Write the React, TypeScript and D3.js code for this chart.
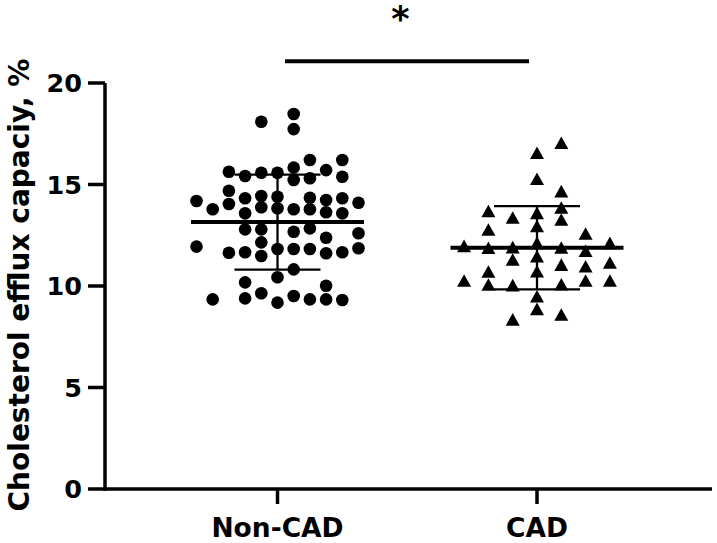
import React from "react";
import * as d3 from "d3";

const categories = ["Non-CAD", "CAD"];
const yTicks = [0, 5, 10, 15, 20];
const yLabel = "Cholesterol efflux capaciy, %";

// [value, lane]
const nonCadPoints: [number, number][] = [
  [18.09, -1], [18.47, 1], [17.73, 1], [16.21, 2], [16.21, 4],
  [15.63, -3], [15.42, -2], [15.58, -1], [15.58, 0], [15.83, 1], [15.22, 1],
  [15.31, 2], [15.71, 3], [15.38, 4], [14.69, -3], [14.19, -5], [13.78, -4],
  [14.04, -3], [14.32, -2], [13.58, -2], [14.43, -1], [13.88, -1], [14.4, 0],
  [13.83, 0], [13.78, 1], [14.35, 2], [13.78, 2], [14.24, 3], [13.63, 3],
  [14.32, 4], [13.58, 4], [14.1, 5],
  [12.79, -2], [12.79, -1], [12.67, 1], [12.84, 2], [12.6, 5], [12.38, 3],
  [12.15, -1], [11.94, -5], [11.64, -3], [11.66, -2], [11.48, -1], [11.82, 0],
  [11.82, 1], [11.82, 2], [11.61, 3], [11.66, 4], [11.86, 5], [10.82, 1],
  [10.43, 0], [10.18, -2], [10.01, 3], [9.34, -4], [9.39, -2], [9.64, -1],
  [9.18, 0], [9.51, 1], [9.34, 2], [9.34, 3], [9.31, 4],
];

const cadPoints: [number, number][] = [
  [17.03, 1], [16.54, 0], [15.26, 0], [14.65, 1], [13.84, 1], [13.67, -2],
  [13.35, -1], [13.58, 0], [13.25, 1], [12.93, 0], [12.76, -2], [12.56, 2],
  [12.1, 3], [11.95, -3], [11.86, -2], [11.89, -1], [12.1, 0], [11.87, 1],
  [11.71, 2], [11.28, -1], [11.44, 0], [11.03, 1], [10.95, 2], [11.13, 3],
  [10.69, -2], [10.7, 0], [10.25, -3], [10.05, -2], [10.02, -1], [10.06, 1],
  [10.25, 2], [10.25, 3], [9.47, 0], [8.85, 0], [8.57, 1], [8.33, -1],
];

const means = [13.15, 11.88];
const sds = [2.34, 2.05];

const FONT = "'DejaVu Sans', sans-serif";

export default function App() {
  const W = 717, H = 543;
  const axisLeft = 105, axisRight = 712, axisBottom = 489, axisTop = 83;
  const y = d3.scaleLinear().domain([0, 20]).range([axisBottom, axisTop]);
  const x = d3.scalePoint<string>().domain(categories).range([277.5, 537]);
  const laneW = [16.2, 24.3];

  const groups = [nonCadPoints, cadPoints];
  const tri = (cx: number, cy: number) => {
    const p = d3.path();
    p.moveTo(cx, cy - 6.8);
    p.lineTo(cx - 7, cy + 5.8);
    p.lineTo(cx + 7, cy + 5.8);
    p.closePath();
    return p.toString();
  };

  return (
    <svg width={W} height={H} style={{ position: "absolute", left: 0, top: 0, background: "#fff" }}>
      {/* y label */}
      <text
        transform={`translate(29,285) rotate(-90)`}
        textAnchor="middle"
        fontFamily={FONT}
        fontWeight="bold"
        fontSize={28}
        fill="#000"
      >
        {yLabel}
      </text>
      {/* axes */}
      <line x1={axisLeft} x2={axisLeft} y1={axisTop} y2={axisBottom + 1.75} stroke="#000" strokeWidth={3.5} />
      <line x1={axisLeft - 1.75} x2={axisRight} y1={axisBottom} y2={axisBottom} stroke="#000" strokeWidth={3.5} />
      {yTicks.map((t) => (
        <g key={t}>
          <line x1={88} x2={axisLeft} y1={y(t)} y2={y(t)} stroke="#000" strokeWidth={3.5} />
          <text
            x={82}
            y={y(t)}
            textAnchor="end"
            dominantBaseline="central"
            fontFamily={FONT}
            fontWeight="bold"
            fontSize={25.5}
          >
            {t}
          </text>
        </g>
      ))}
      {categories.map((c) => (
        <g key={c}>
          <line x1={x(c)} x2={x(c)} y1={axisBottom} y2={504} stroke="#000" strokeWidth={3.5} />
          <text x={x(c)} y={536.5} textAnchor="middle" fontFamily={FONT} fontWeight="bold" fontSize={26.5}>
            {c}
          </text>
        </g>
      ))}
      {/* points */}
      {groups.map((pts, gi) =>
        pts.map(([v, lane], i) => {
          const cx = (x(categories[gi]) as number) + lane * laneW[gi];
          const cy = y(v);
          return gi === 0 ? (
            <circle key={`${gi}-${i}`} cx={cx} cy={cy} r={6.3} fill="#000" />
          ) : (
            <path key={`${gi}-${i}`} d={tri(cx, cy)} fill="#000" />
          );
        })
      )}
      {/* mean & sd */}
      {categories.map((c, gi) => {
        const cx = x(c) as number;
        const m = means[gi], s = sds[gi];
        return (
          <g key={`ms-${c}`} stroke="#000">
            <line x1={cx - 86.5} x2={cx + 86.5} y1={y(m)} y2={y(m)} strokeWidth={4} />
            <line x1={cx} x2={cx} y1={y(m + s)} y2={y(m - s)} strokeWidth={2.3} />
            <line x1={cx - 43} x2={cx + 43} y1={y(m + s)} y2={y(m + s)} strokeWidth={2.3} />
            <line x1={cx - 43} x2={cx + 43} y1={y(m - s)} y2={y(m - s)} strokeWidth={2.3} />
          </g>
        );
      })}
      {/* significance */}
      <line x1={285} x2={529} y1={61.3} y2={61.3} stroke="#000" strokeWidth={4} />
      <text x={400.5} y={31} textAnchor="middle" fontFamily={FONT} fontWeight="bold" fontSize={35}>
        *
      </text>
    </svg>
  );
}
